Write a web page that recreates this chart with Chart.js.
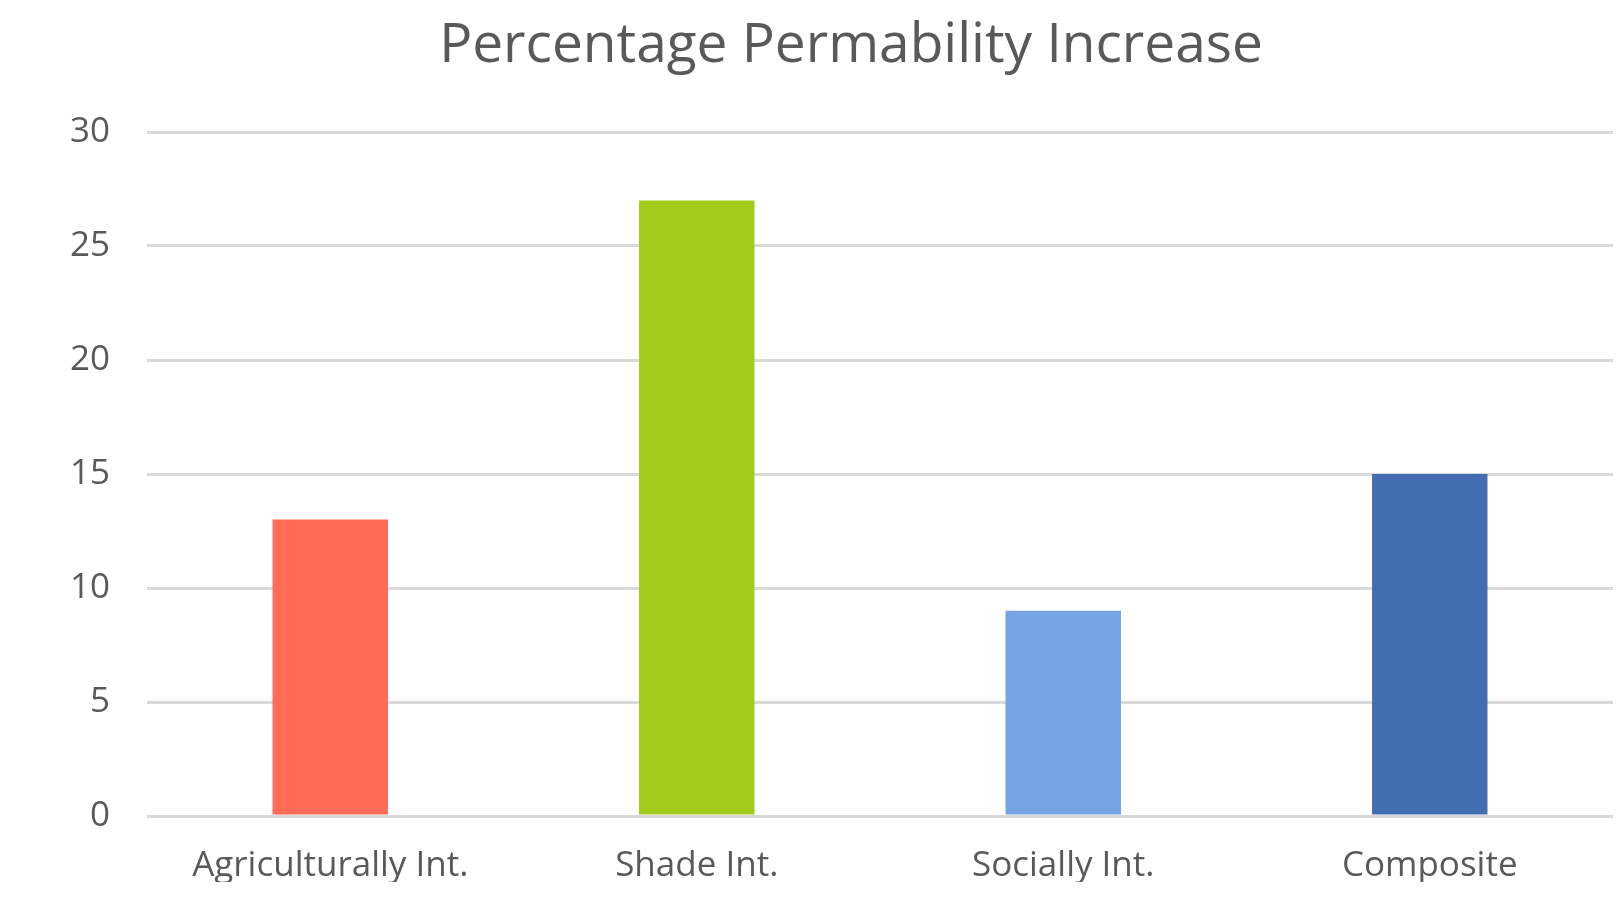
<!DOCTYPE html>
<html>
<head>
<meta charset="utf-8">
<title>Percentage Permability Increase</title>
<script src="https://cdn.jsdelivr.net/npm/chart.js@4"></script>
<style>
  html, body { margin: 0; padding: 0; background: #ffffff; }
  #wrap { width: 1623px; height: 921px; }
</style>
</head>
<body>
<div id="wrap"><canvas id="chart" width="1623" height="921"></canvas></div>
<script>
// Categories and their percentage increase in permeability
const categories = ['Agriculturally Int.', 'Shade Int.', 'Socially Int.', 'Composite'];
const increases = [13, 27, 9, 15];
const barColors = ['#FF6B57', '#A2CC1C', '#77A3E5', '#426EB1'];
const yTicks = [0, 5, 10, 15, 20, 25, 30];

const FONT = "'Open Sans', 'Noto Sans', sans-serif";
const TEXT = '#595959';

// Nudge the title so it is centred over the span right of the value labels
const titleOffset = {
  id: 'titleOffset',
  afterLayout(chart) {
    if (chart.titleBlock) chart.titleBlock.left += 89;
  }
};

new Chart(document.getElementById('chart'), {
  type: 'bar',
  data: {
    labels: categories,
    datasets: [{
      data: increases,
      backgroundColor: barColors,
      borderWidth: 0,
      barPercentage: 0.63,
      categoryPercentage: 0.5
    }]
  },
  options: {
    responsive: false,
    animation: false,
    layout: { padding: { left: 0, right: 10, top: 0, bottom: 39 } },
    plugins: {
      legend: { display: false },
      tooltip: { enabled: false },
      title: {
        display: true,
        text: 'Percentage Permability Increase',
        color: TEXT,
        font: { family: FONT, size: 55, weight: 'normal' },
        padding: { top: 13, bottom: 53 }
      }
    },
    scales: {
      x: {
        grid: { display: false, drawTicks: false },
        border: { display: false },
        ticks: { color: TEXT, font: { family: FONT, size: 35 }, padding: 29 },
        afterFit: s => { s.height = 66; }
      },
      y: {
        min: 0,
        max: 30,
        afterBuildTicks: s => { s.ticks = yTicks.map(v => ({ value: v })); },
        grid: { color: '#D9D9D9', lineWidth: 3, drawTicks: false },
        border: { display: false },
        ticks: { color: TEXT, font: { family: FONT, size: 35 }, padding: 37 },
        afterFit: s => { s.width = 147; }
      }
    }
  },
  plugins: [titleOffset]
});
</script>
</body>
</html>
